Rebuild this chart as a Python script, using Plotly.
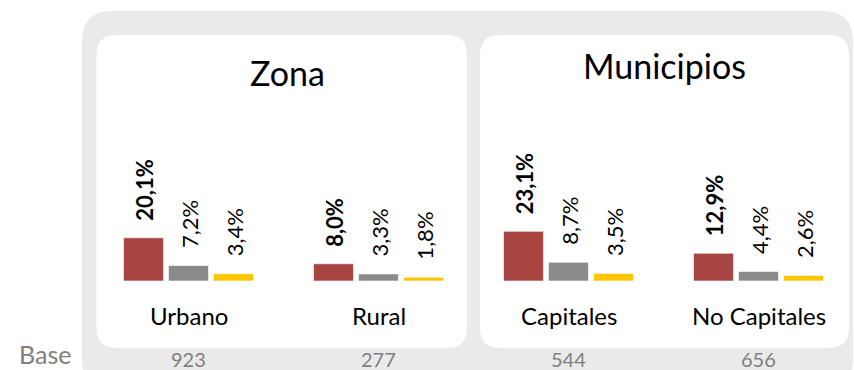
import plotly.graph_objects as go

# Datos
groups = ["Zona", "Municipios"]
categories = ["Urbano", "Rural", "Capitales", "No Capitales"]
serie_a = [20.1, 8.0, 23.1, 12.9]
serie_b = [7.2, 3.3, 8.7, 4.4]
serie_c = [3.4, 1.8, 3.5, 2.6]
bases = [923, 277, 544, 656]

W, H = 854, 370
FONT = "Lato"
colors = ["#A64542", "#8A8A8A", "#FFC600"]
series = [serie_a, serie_b, serie_c]

# bar geometry in axis units (one category = 190 px)
unit = 190.0
bar_w = 40 / unit
offsets = [-65 / unit, -20 / unit, 25 / unit]
px_per_pct = 2.15
baseline = 281


def fmt(v):
    return f"{v:.1f}%".replace(".", ",")


def px(x):
    return x / W


def py(y):
    return 1 - y / H


def rounded(x0, y0, x1, y1, r):
    pts = [
        ("M", [(x0 + r, y0)]),
        ("L", [(x1 - r, y0)]),
        ("Q", [(x1, y0), (x1, y0 + r)]),
        ("L", [(x1, y1 - r)]),
        ("Q", [(x1, y1), (x1 - r, y1)]),
        ("L", [(x0 + r, y1)]),
        ("Q", [(x0, y1), (x0, y1 - r)]),
        ("L", [(x0, y0 + r)]),
        ("Q", [(x0, y0), (x0 + r, y0)]),
    ]
    out = []
    for cmd, ps in pts:
        out.append(cmd + " " + " ".join(f"{px(a):.5f},{py(b):.5f}" for a, b in ps))
    return " ".join(out) + " Z"


fig = go.Figure()
x = list(range(len(categories)))
for vals, col, off in zip(series, colors, offsets):
    fig.add_trace(go.Bar(
        x=x, y=vals, width=bar_w, offset=off,
        marker=dict(color=col, line=dict(color="rgba(255,255,255,0.6)", width=1)),
        hoverinfo="skip", showlegend=False,
    ))

annotations = []
for k, (vals, off) in enumerate(zip(series, offsets)):
    for i, v in enumerate(vals):
        annotations.append(dict(
            x=i + off + bar_w / 2 + 1 / unit, y=v, xref="x", yref="y",
            text=fmt(v), textangle=-90, showarrow=False,
            xanchor="center", yanchor="bottom", yshift=15,
            font=dict(family=FONT, size=22, color="#000000",
                      weight=700 if k == 0 else 400),
        ))

for i, c in enumerate(categories):
    annotations.append(dict(
        x=i, y=py(315), xref="x", yref="paper", text=c, showarrow=False,
        xanchor="center", yanchor="middle",
        font=dict(family=FONT, size=24, color="#000000", weight=400),
    ))
    annotations.append(dict(
        x=i, y=py(359), xref="x", yref="paper", text=str(bases[i]), showarrow=False,
        xanchor="center", yanchor="middle",
        font=dict(family=FONT, size=20, color="#7F7F7F", weight=400),
    ))

annotations.append(dict(
    x=px(45), y=py(354), xref="paper", yref="paper", text="Base", showarrow=False,
    xanchor="center", yanchor="middle",
    font=dict(family=FONT, size=25, color="#7F7F7F", weight=400),
))

title_pos = [(287, 72), (664.5, 66)]
for g, (tx, ty) in zip(groups, title_pos):
    annotations.append(dict(
        x=px(tx), y=py(ty), xref="paper", yref="paper", text=g, showarrow=False,
        xanchor="center", yanchor="middle",
        font=dict(family=FONT, size=34, color="#000000", weight=400),
    ))

shapes = [
    dict(type="path", xref="paper", yref="paper", layer="below",
         path=rounded(82, 11, 853, 390, 30),
         fillcolor="#EAEAEA", line=dict(width=0)),
    dict(type="path", xref="paper", yref="paper", layer="below",
         path=rounded(96.5, 35, 467, 348, 20),
         fillcolor="#FFFFFF", line=dict(width=0)),
    dict(type="path", xref="paper", yref="paper", layer="below",
         path=rounded(480, 35, 849, 348, 20),
         fillcolor="#FFFFFF", line=dict(width=0)),
]

x0 = -188.5 / unit
fig.update_layout(
    width=W, height=H,
    margin=dict(l=0, r=0, t=0, b=0),
    paper_bgcolor="#FFFFFF", plot_bgcolor="rgba(0,0,0,0)",
    barmode="overlay",
    xaxis=dict(range=[x0, x0 + W / unit], domain=[0, 1], visible=False, fixedrange=True),
    yaxis=dict(range=[0, baseline / px_per_pct], domain=[py(baseline), 1],
               visible=False, fixedrange=True),
    annotations=annotations,
    shapes=shapes,
)

fig.write_html("out.html")
